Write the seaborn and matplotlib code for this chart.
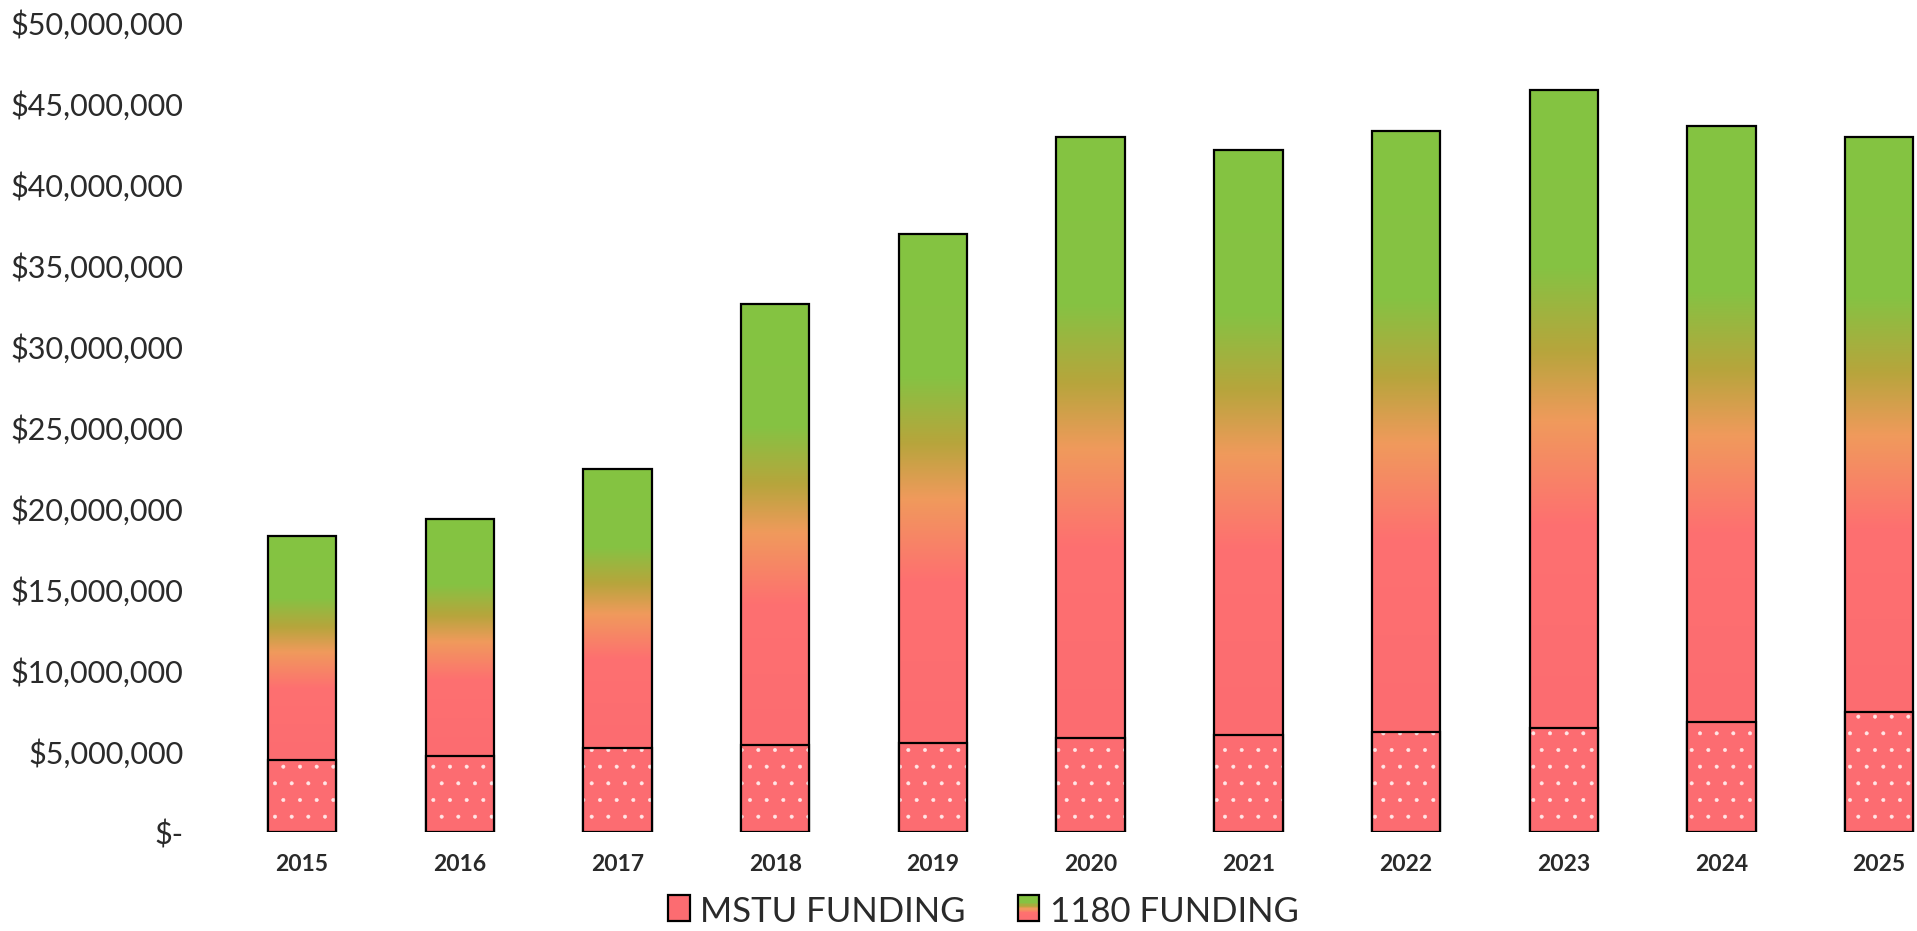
import numpy as np
import pandas as pd
import matplotlib
matplotlib.use("Agg")
import matplotlib.pyplot as plt
import seaborn as sns
from matplotlib.colors import LinearSegmentedColormap
from matplotlib.patches import Rectangle
from matplotlib.legend_handler import HandlerBase
from matplotlib.ticker import FuncFormatter

# ---- data ----
years = ["2015", "2016", "2017", "2018", "2019", "2020", "2021", "2022", "2023", "2024", "2025"]
mstu_funding = [4450000, 4670000, 5200000, 5350000, 5500000, 5800000, 6000000, 6200000, 6400000, 6800000, 7400000]
funding_1180 = [13850000, 14630000, 17200000, 27250000, 31400000, 37100000, 36100000, 37100000, 39400000, 36800000, 35500000]
series_labels = ["MSTU FUNDING", "1180 FUNDING"]
y_ticks = [0, 5000000, 10000000, 15000000, 20000000, 25000000, 30000000, 35000000, 40000000, 45000000, 50000000]

df = pd.DataFrame({"year": years, "mstu": mstu_funding, "f1180": funding_1180})
df["total"] = df["mstu"] + df["f1180"]

sns.set_theme(style="white")
plt.rcParams["font.family"] = ["Lato", "DejaVu Sans"]
plt.rcParams["hatch.linewidth"] = 0.4

RED = "#FC6C71"
grad = LinearSegmentedColormap.from_list(
    "g", [(0.0, RED), (0.32, "#FE7070"), (0.48, "#F09A5C"), (0.59, "#B7A53C"), (0.72, "#86C243"), (1.0, "#84C441")])

fig = plt.figure(figsize=(19.17, 9.31), dpi=100)
ax = fig.add_axes([200 / 1917, 1 - 832 / 931, 1 - 200 / 1917, (832 - 22) / 931])

# total bars (1180 portion visible above MSTU)
sns.barplot(data=df, x="year", y="total", color=RED, width=0.434, ax=ax,
            edgecolor="black", linewidth=1.6, saturation=1, zorder=2)
total_patches = list(ax.patches)
# MSTU bars
sns.barplot(data=df, x="year", y="mstu", color=RED, width=0.434, ax=ax,
            edgecolor="#FFE6E6", linewidth=0, hatch=".", saturation=1, zorder=3)
mstu_patches = [p for p in ax.patches if p not in total_patches]

gvals = np.linspace(0, 1, 256).reshape(-1, 1)
for tp, mp in zip(total_patches, mstu_patches):
    tp.set_facecolor("none")
    x0 = tp.get_x(); w = tp.get_width()
    y0 = mp.get_height(); y1 = tp.get_height()
    ax.imshow(gvals, cmap=grad, extent=[x0, x0 + w, y0, y1], origin="lower",
              aspect="auto", zorder=1, interpolation="bilinear")
    ax.add_patch(Rectangle((mp.get_x(), 0), mp.get_width(), mp.get_height(),
                           facecolor="none", edgecolor="black", linewidth=1.6, zorder=4))

ax.set_xlim(-0.647, 10.24)
ax.set_ylim(0, 50000000)
ax.set_yticks(y_ticks)
ax.yaxis.set_major_formatter(FuncFormatter(lambda v, p: "$-" if v == 0 else f"${v:,.0f}"))
ax.set_xlabel(""); ax.set_ylabel("")
for s in ax.spines.values():
    s.set_visible(False)
ax.tick_params(axis="y", length=0, pad=12, labelsize=22, labelcolor="#2a2a2a")
ax.tick_params(axis="x", length=0, pad=16, labelsize=16.5, labelcolor="#2a2a2a")
for lbl in ax.get_xticklabels():
    lbl.set_fontweight("bold")
ax.grid(False)


class SolidHandler(HandlerBase):
    def create_artists(self, legend, orig, xd, yd, w, h, fontsize, trans):
        r = Rectangle((xd, yd), w, h, facecolor=RED, edgecolor="black", linewidth=1.6, transform=trans)
        return [r]


class GradHandler(HandlerBase):
    def create_artists(self, legend, orig, xd, yd, w, h, fontsize, trans):
        arts = []
        n = 20
        for i in range(n):
            c = grad((i + 0.5) / n)
            arts.append(Rectangle((xd, yd + h * i / n), w, h / n + 0.3, facecolor=c,
                                  edgecolor="none", transform=trans))
        arts.append(Rectangle((xd, yd), w, h, facecolor="none", edgecolor="black",
                              linewidth=1.6, transform=trans))
        return arts


h1 = Rectangle((0, 0), 1, 1)
h2 = Rectangle((0, 0), 1, 1)
fig.legend([h1, h2], series_labels, loc="center", bbox_to_anchor=(0.513, 0.02),
           ncol=2, frameon=False, fontsize=25, handlelength=0.62, handleheight=0.78,
           handletextpad=0.3, columnspacing=1.5, labelcolor="#2a2a2a",
           handler_map={h1: SolidHandler(), h2: GradHandler()})

fig.savefig("out.png", dpi=100)
